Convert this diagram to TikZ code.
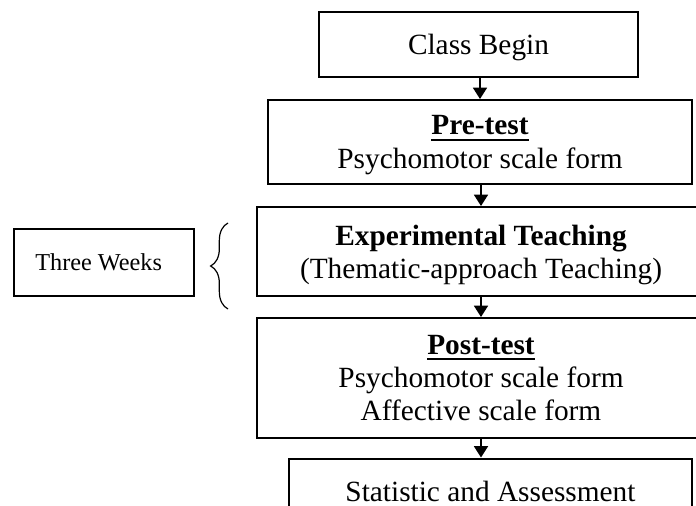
\documentclass[tikz,border=0pt]{standalone}
\usepackage{fontspec}
\setmainfont{Liberation Serif}
\usepackage{tikz}
\usetikzlibrary{arrows.meta, decorations.pathreplacing}

%% bold heading with a low, heavy underline
\newcommand{\ulbf}[1]{\setbox0\hbox{\textbf{#1}}\rlap{\rule[-4.2pt]{\wd0}{1.5pt}}\box0}

\begin{document}
\begin{tikzpicture}[
  x=0.75pt, y=-0.75pt,
  stage/.style={rectangle, draw, line width=1.5pt, inner sep=0pt, align=center,
                text depth=0pt, font=\fontsize{22}{25}\selectfont},
  arrow/.style={-{Triangle[width=10.5pt,length=8.5pt]}, line width=1.2pt},
  brace/.style={decorate, decoration={brace, amplitude=13pt}, line width=0.9pt}
]
\clip (0,0) rectangle (696,506);

%% Stages -- fixed coordinates
\node[stage, minimum width=239.25pt, minimum height=48.75pt] at (478.5, 44.5) (classbegin) {Class Begin};
\node[stage, minimum width=318pt, minimum height=63pt]       at (480, 142)    (pretest)
  {\ulbf{Pre-test}\\Psychomotor scale form};
\node[stage, minimum width=336pt, minimum height=66.75pt]    at (481, 251.5)  (expteach)
  {\textbf{Experimental Teaching}\\(Thematic-approach Teaching)};
\node[stage, minimum width=336pt, minimum height=90pt]       at (481, 378)    (posttest)
  {\ulbf{Post-test}\\Psychomotor scale form\\Affective scale form};
\node[stage, minimum width=302.25pt, minimum height=48.75pt] at (490.5, 491) (stats)
  {Statistic and Assessment};

%% Duration
\node[stage, minimum width=135pt, minimum height=50.25pt,
      font=\fontsize{18.2}{21}\selectfont] at (104, 262.5) (weeks) {Three Weeks\hspace*{8pt}};
\coordinate (bracebot) at (228, 309);
\coordinate (bracetop) at (228, 223);
\draw[brace] (bracebot) -- (bracetop);

%% Flow
\draw[arrow] (pretest.north |- classbegin.south) -- (pretest.north);
\draw[arrow] (pretest.south -| expteach.north) -- (expteach.north);
\draw[arrow] (expteach.south) -- (posttest.north);
\draw[arrow] (posttest.south) -- (posttest.south |- stats.north);
\end{tikzpicture}
\end{document}
